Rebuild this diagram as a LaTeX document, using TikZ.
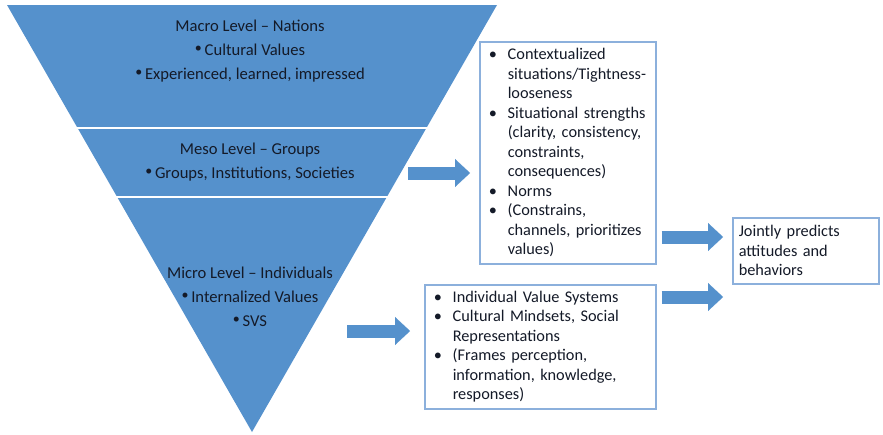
\documentclass[tikz,border=0pt]{standalone}
\usepackage{fontspec}
\setmainfont{Carlito}
\usetikzlibrary{arrows.meta,calc}

\definecolor{levelblue}{HTML}{5591CC}
\definecolor{boxline}{HTML}{8CB0DC}
\definecolor{ink}{HTML}{141A28}

\newcommand{\lvldot}{\raisebox{0.2em}{\fontsize{14}{14}\selectfont\textbullet}\,}
\newcommand{\itm}[1]{\makebox[19pt][l]{\textbullet}#1}
\newcommand{\cnt}[1]{\hspace*{19pt}#1}

\tikzset{
  level/.style={text=ink, align=center, font=\fontsize{16.6}{24}\selectfont},
  infobox/.style={draw=boxline, line width=1.5pt, fill=white, text=ink,
    anchor=north west, align=left, inner xsep=9pt,
    font=\fontsize{16.3}{19.5}\selectfont},
  flow/.style={draw=levelblue, line width=13pt,
    -{Triangle[width=28pt,length=15pt,line width=0.1pt]}}
}

\begin{document}
\begin{tikzpicture}[x=1pt,y=-1pt]
  % \draw[help lines] (0,0) grid (883,434);
  \useasboundingbox (0,0) rectangle (883,434);
  \fill[levelblue] (7,5) -- (497,5) -- (252,432) -- cycle;
  \draw[white, line width=2pt] (76,128) -- (428,128)
                               (116,197) -- (388,197);

  \node[level] (macro) at (250,51)  {Macro Level -- Nations\\ \lvldot Cultural Values\\ \lvldot Experienced, learned, impressed};
  \node[level] (meso)  at (250,162) {Meso Level -- Groups\\ \lvldot Groups, Institutions, Societies};
  \node[level] (micro) at (250,297) {Micro Level -- Individuals\\ \lvldot Internalized Values\\ \lvldot SVS};

  \node[infobox, text width=158pt, minimum height=222pt] (context) at (479,41)
    {\itm{Contextualized}\\ \cnt{situations/Tightness-}\\ \cnt{looseness}\\
     \itm{Situational strengths}\\ \cnt{(clarity, consistency,}\\ \cnt{constraints,}\\
     \cnt{consequences)}\\ \itm{Norms}\\ \itm{(Constrains,}\\
     \cnt{channels, prioritizes}\\ \cnt{values)}};
  \node[infobox, text width=213pt, minimum height=124pt] (values) at (424,284)
    {\itm{Individual Value Systems}\\ \itm{Cultural Mindsets, Social}\\
     \cnt{Representations}\\ \itm{(Frames perception,}\\
     \cnt{information, knowledge,}\\ \cnt{responses)}};
  \node[infobox, text width=134pt, minimum height=66pt, inner xsep=6pt] (joint) at (732,217)
    {Jointly predicts\\ attitudes and\\ behaviors};

  \coordinate (mesotail)  at (408,173);
  \coordinate (microtail) at (347,331);
  \coordinate (up) at (660,237);
  \coordinate (lo) at (660,297);
  \draw[flow, shorten >=9pt] (mesotail) -- (mesotail -| context.west);
  \draw[flow, shorten >=14pt] (microtail) -- (microtail -| values.west);
  \draw[flow, shorten <=5pt, shorten >=9pt] (context.east |- up) -- (joint.west |- up);
  \draw[flow, shorten <=5pt, shorten >=9pt] (values.east |- lo) -- (joint.west |- lo);
\end{tikzpicture}
\end{document}
